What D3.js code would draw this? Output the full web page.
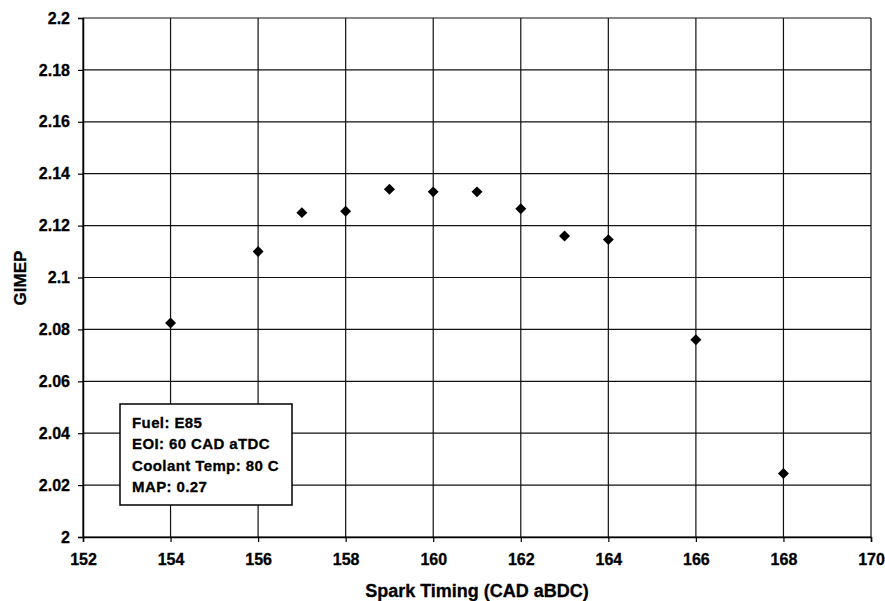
<!DOCTYPE html>
<html>
<head>
<meta charset="utf-8">
<script src="https://cdn.jsdelivr.net/npm/d3@7/dist/d3.min.js"></script>
<style>
  body { margin: 0; background: #fff; }
  text { font-family: "Liberation Sans", Arial, sans-serif; font-weight: bold; fill: #000; }
</style>
</head>
<body>
<div id="chart"></div>
<script>
// spark timing sweep values
var sparkTiming = [154, 156, 157, 158, 159, 160, 161, 162, 163, 164, 166, 168];
var gimep = [2.0825, 2.110, 2.125, 2.1255, 2.134, 2.133, 2.133, 2.1265, 2.116, 2.1146, 2.076, 2.0245];
var xTicks = [152, 154, 156, 158, 160, 162, 164, 166, 168, 170];
var yTicks = [2, 2.02, 2.04, 2.06, 2.08, 2.1, 2.12, 2.14, 2.16, 2.18, 2.2];
var noteLines = ["Fuel: E85", "EOI: 60 CAD aTDC", "Coolant Temp: 80 C", "MAP: 0.27"];

var width = 885, height = 601;
var margin = {top: 18, right: 14, bottom: 64, left: 83};

var svg = d3.select("#chart").append("svg")
    .attr("width", width)
    .attr("height", height);

var x = d3.scaleLinear().domain([152, 170]).range([margin.left, width - margin.right]);
var y = d3.scaleLinear().domain([2, 2.2]).range([height - margin.bottom, margin.top]);

// grid lines
svg.append("g").selectAll("line")
    .data(xTicks)
  .enter().append("line")
    .attr("x1", function(d) { return x(d); })
    .attr("x2", function(d) { return x(d); })
    .attr("y1", y(2))
    .attr("y2", y(2.2))
    .attr("stroke", "#111")
    .attr("stroke-width", 1.2);

svg.append("g").selectAll("line")
    .data(yTicks)
  .enter().append("line")
    .attr("x1", x(152))
    .attr("x2", x(170))
    .attr("y1", function(d) { return y(d); })
    .attr("y2", function(d) { return y(d); })
    .attr("stroke", "#111")
    .attr("stroke-width", 1.2);

// axes
var xAxis = d3.axisBottom(x).tickValues(xTicks).tickSize(5).tickPadding(12).tickFormat(d3.format("d"));
var yAxis = d3.axisLeft(y).tickValues(yTicks).tickSize(5).tickPadding(8).tickFormat(function(d) { return +d.toFixed(2); });

var gx = svg.append("g")
    .attr("transform", "translate(0," + y(2) + ")")
    .call(xAxis);
var gy = svg.append("g")
    .attr("transform", "translate(" + x(152) + ",0)")
    .call(yAxis);

[gx, gy].forEach(function(g) {
    g.select(".domain").attr("stroke", "#000").attr("stroke-width", 1.5);
    g.selectAll(".tick line").attr("stroke", "#000").attr("stroke-width", 1.2);
    g.selectAll(".tick text")
        .style("font-size", "16px")
        .attr("fill", "#000")
        .attr("stroke", "#000")
        .attr("stroke-width", 0.3);
});

// axis titles
svg.append("text")
    .attr("x", (x(152) + x(170)) / 2)
    .attr("y", 597)
    .attr("text-anchor", "middle")
    .style("font-size", "18px")
    .attr("stroke", "#000")
    .attr("stroke-width", 0.3)
    .text("Spark Timing (CAD aBDC)");

svg.append("text")
    .attr("transform", "translate(26," + 278 + ") rotate(-90)")
    .attr("text-anchor", "middle")
    .style("font-size", "17px")
    .attr("stroke", "#000")
    .attr("stroke-width", 0.3)
    .text("GIMEP");

// diamond markers
var diamond = d3.symbol().type(d3.symbolSquare).size(60);
svg.append("g").selectAll("path")
    .data(sparkTiming)
  .enter().append("path")
    .attr("d", diamond)
    .attr("transform", function(d, i) { return "translate(" + x(d) + "," + y(gimep[i]) + ") rotate(45)"; })
    .attr("fill", "#000");

// note box
var box = svg.append("g");
box.append("rect")
    .attr("x", 120)
    .attr("y", 404)
    .attr("width", 172)
    .attr("height", 101)
    .attr("fill", "#fff")
    .attr("stroke", "#000")
    .attr("stroke-width", 1.5);

box.selectAll("text")
    .data(noteLines)
  .enter().append("text")
    .attr("x", 132)
    .attr("y", function(d, i) { return 428 + i * 21.3; })
    .style("font-size", "15px")
    .style("letter-spacing", "0.4px")
    .attr("stroke", "#000")
    .attr("stroke-width", 0.3)
    .text(function(d) { return d; });
</script>
</body>
</html>
